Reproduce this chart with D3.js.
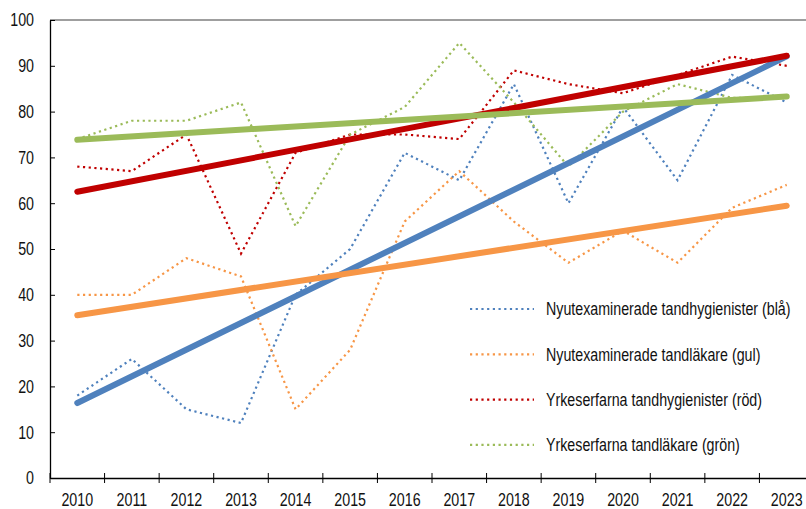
<!DOCTYPE html>
<html>
<head>
<meta charset="utf-8">
<script src="https://cdn.jsdelivr.net/npm/d3@7"></script>
<style>
  html, body { margin: 0; padding: 0; background: #fff; }
  svg { display: block; }
  text { font-family: "Liberation Sans", Arial, sans-serif; fill: #111; }
</style>
</head>
<body>
<svg id="chart" width="806" height="509"></svg>
<script>
// Years on the x axis
const years = ["2010","2011","2012","2013","2014","2015","2016","2017","2018","2019","2020","2021","2022","2023"];

// Survey values per group (percent)
const nyaHygienister = [18, 26, 15, 12, 40, 50, 71, 65, 86, 60, 81, 65, 88, 82];
const nyaTandlakare  = [40, 40, 48, 44, 15, 28, 56, 67, 56, 47, 54, 47, 59, 64];
const erfHygienister = [68, 67, 75, 49, 71, 75, 75, 74, 89, 86, 84, 88, 92, 90];
const erfTandlakare  = [74, 78, 78, 82, 55, 75, 81, 95, 82, 68, 80, 86, 83, 83];

const seriesNames = [
  "Nyutexaminerade tandhygienister (blå)",
  "Nyutexaminerade tandläkare (gul)",
  "Yrkeserfarna tandhygienister (röd)",
  "Yrkeserfarna tandläkare (grön)"
];
const seriesColors = ["#4F81BD", "#F79646", "#C00000", "#9BBB59"];
const yTicks = [0, 10, 20, 30, 40, 50, 60, 70, 80, 90, 100];

const series = [nyaHygienister, nyaTandlakare, erfHygienister, erfTandlakare].map((values, i) => ({
  name: seriesNames[i], color: seriesColors[i], values
}));

const svg = d3.select("#chart");
const plotLeft = 50, plotTop = 20, plotBottom = 478, plotRight = 814;
const fontSize = "18.5px";
const narrow = 0.77; // horizontal squeeze for a narrow face

const x = d3.scaleBand().domain(years).range([plotLeft, plotRight]).padding(0);
const cx = d => x(d) + x.bandwidth() / 2;
const y = d3.scaleLinear().domain([0, 100]).range([plotBottom, plotTop]);

// Squeeze texts horizontally about their own anchor x
function condense(sel) {
  sel.each(function () {
    const ax = +(this.getAttribute("x") || 0);
    d3.select(this).attr("transform", `translate(${ax * (1 - narrow)},0) scale(${narrow},1)`);
  });
}

// Top frame line
svg.append("line")
  .attr("x1", plotLeft).attr("x2", 806).attr("y1", plotTop).attr("y2", plotTop)
  .attr("stroke", "#7f7f7f").attr("stroke-width", 1.3);

// Y axis with inward ticks
const yAxis = svg.append("g")
  .attr("transform", `translate(${plotLeft},0)`)
  .call(d3.axisLeft(y).tickValues(yTicks).tickSizeInner(-5).tickSizeOuter(0).tickPadding(16));
yAxis.attr("font-family", null).attr("font-size", null);
yAxis.select(".domain").attr("stroke", "#000").attr("stroke-width", 1.3);
yAxis.selectAll(".tick line").attr("stroke", "#000").attr("stroke-width", 1);
yAxis.selectAll(".tick text").style("font-size", fontSize).attr("fill", "#111").call(condense);

// X axis: labels centred in each band, ticks on the band edges
const xAxis = svg.append("g")
  .attr("transform", `translate(0,${plotBottom})`)
  .call(d3.axisBottom(x).tickSize(0).tickPadding(15));
xAxis.attr("font-family", null).attr("font-size", null);
xAxis.select(".domain").attr("stroke", "#000").attr("stroke-width", 1.3);
xAxis.selectAll(".tick text").style("font-size", fontSize).attr("fill", "#111").call(condense);
const edges = years.map(d => x(d)).concat([x(years[years.length - 1]) + x.bandwidth()]);
xAxis.selectAll(".edge").data(edges).enter().append("line")
  .attr("class", "edge")
  .attr("x1", d => d).attr("x2", d => d).attr("y1", -5).attr("y2", 5)
  .attr("stroke", "#000").attr("stroke-width", 1);

// Dotted data lines
const line = d3.line().x((d, i) => cx(years[i])).y(d => y(d));
svg.append("g").selectAll("path").data(series).enter().append("path")
  .attr("d", d => line(d.values))
  .attr("fill", "none")
  .attr("stroke", d => d.color)
  .attr("stroke-width", 2.2)
  .attr("stroke-dasharray", "2.2,3.5");

// Linear trend lines (least squares)
function trend(values) {
  const n = values.length;
  const xs = d3.range(n);
  const mx = d3.mean(xs), my = d3.mean(values);
  const sxy = d3.sum(xs, (v, i) => (v - mx) * (values[i] - my));
  const sxx = d3.sum(xs, v => (v - mx) * (v - mx));
  const b = sxy / sxx, a = my - b * mx;
  return [a, a + b * (n - 1)];
}
svg.append("g").selectAll("line").data(series).enter().append("line")
  .attr("x1", cx(years[0]))
  .attr("x2", cx(years[years.length - 1]))
  .attr("y1", d => y(trend(d.values)[0]))
  .attr("y2", d => y(trend(d.values)[1]))
  .attr("stroke", d => d.color)
  .attr("stroke-width", 6)
  .attr("stroke-linecap", "round");

// Legend
const legend = svg.append("g");
const rows = legend.selectAll("g").data(series).enter().append("g")
  .attr("transform", (d, i) => `translate(470,${309 + i * 45.3})`);
rows.append("line")
  .attr("x1", 0).attr("x2", 64).attr("y1", 0).attr("y2", 0)
  .attr("stroke", d => d.color)
  .attr("stroke-width", 2.2)
  .attr("stroke-dasharray", "2.2,3.5");
rows.append("text")
  .attr("x", 76).attr("y", 0).attr("dy", "0.35em")
  .style("font-size", fontSize)
  .text(d => d.name)
  .call(condense);
</script>
</body>
</html>
